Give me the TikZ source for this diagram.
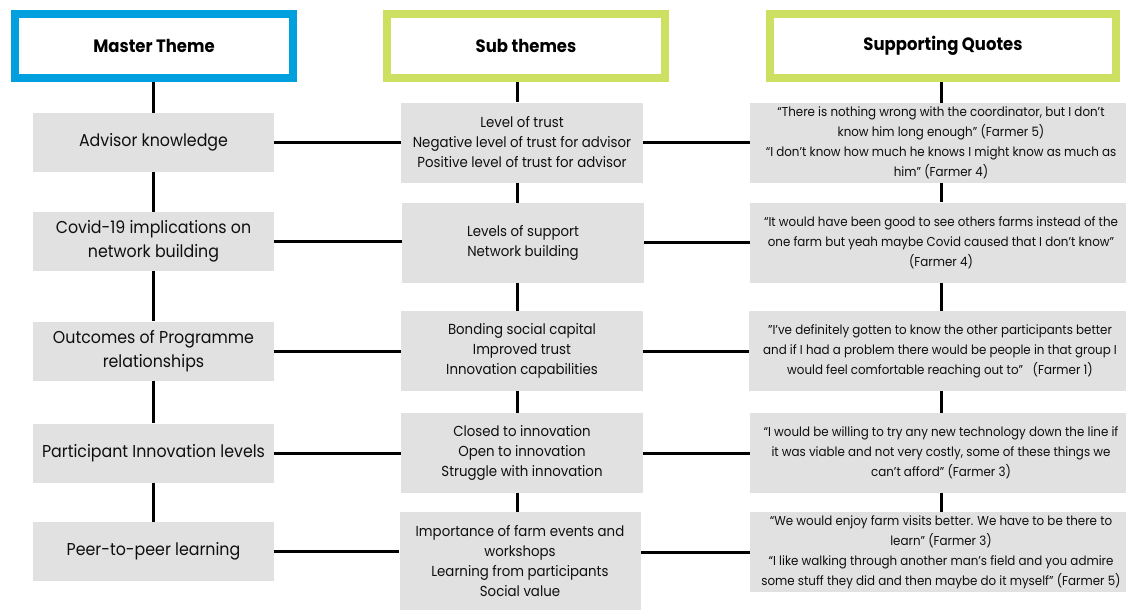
\documentclass[tikz,border=0pt]{standalone}
\usepackage{fontspec}
\setmainfont{Poppins}[FakeStretch=0.92]
\definecolor{hblue}{RGB}{0,160,223}
\definecolor{hgreen}{RGB}{205,224,98}
\definecolor{boxgray}{RGB}{225,225,225}
\definecolor{ink}{RGB}{15,15,15}
\begin{document}
\begin{tikzpicture}[x=1pt,y=-1pt,
  hdr/.style={draw, line width=8pt, fill=white, minimum height=64pt, inner sep=0pt,
    text=black, font=\fontsize{17.9}{20}\selectfont\bfseries},
  gbox/.style={fill=boxgray, inner sep=0pt, align=center, text=ink},
  lft/.style={gbox, minimum width=241pt, minimum height=59pt, font=\fontsize{17.2}{24}\selectfont},
  mid/.style={gbox, minimum width=242pt, minimum height=80pt, font=\fontsize{14.5}{20}\selectfont},
  qt/.style={gbox, minimum width=382pt, minimum height=80pt, font=\fontsize{12.9}{20}\selectfont},
  link/.style={line width=3pt, black}]
\useasboundingbox (0,0) rectangle (1126,610);
\fill[white] (0,0) rectangle (1126,610);

% headers
\node[hdr, draw=hblue, minimum width=278pt] (h1) at (154,46) {Master Theme};
\node[hdr, draw=hgreen, minimum width=278pt] (h2) at (526,46) {Sub themes};
\node[hdr, draw=hgreen, minimum width=346pt] (h3) at (943,46) {Supporting Quotes};

% left column
\node[lft] (L1) at (153.5,142.5) {Advisor knowledge};
\node[lft] (L2) at (153.5,241.5) {Covid-19 implications on\\network building};
\node[lft] (L3) at (153.5,351) {Outcomes of Programme\\relationships};
\node[lft] (L4) at (153.5,453) {Participant Innovation levels};
\node[lft] (L5) at (153.5,551.5) {Peer-to-peer learning};

% middle column
\node[mid] (M1) at (522,142.5) {Level of trust\\Negative level of trust for advisor\\Positive level of trust for advisor};
\node[mid] (M2) at (523,243) {Levels of support\\Network building};
\node[mid] (M3) at (522,351) {Bonding social capital\\Improved trust\\Innovation capabilities};
\node[mid] (M4) at (522,453) {Closed to innovation\\Open to innovation\\Struggle with innovation};
\node[mid, minimum height=98pt, minimum width=241pt] (M5) at (520,561) {Importance of farm events and\\workshops\\Learning from participants\\Social value};

% right column
\node[qt] (R1) at (941,143) {“There is nothing wrong with the coordinator, but I don’t\\know him long enough” (Farmer 5)\\“I don't know how much he knows I might know as much as\\him” (Farmer 4)};
\node[qt] (R2) at (941,242.5) {“It would have been good to see others farms instead of the\\one farm but yeah maybe Covid caused that I don't know”\\(Farmer 4)};
\node[qt] (R3) at (940,351) {"I've definitely gotten to know the other participants better\\and if I had a problem there would be people in that group I\\would feel comfortable reaching out to"~~~(Farmer 1)};
\node[qt] (R4) at (941,453) {“I would be willing to try any new technology down the line if\\it was viable and not very costly, some of these things we\\can’t afford” (Farmer 3)};
\node[qt] (R5) at (941,552) {“We would enjoy farm visits better. We have to be there to\\learn” (Farmer 3)\\“I like walking through another man’s field and you admire\\some stuff they did and then maybe do it myself” (Farmer 5)};

% column axes
\coordinate (lx) at (153,0);
\coordinate (mx) at (517,0);
\coordinate (qx) at (941,0);

% vertical connectors
\draw[link] (h1.south -| lx) -- (L1.north -| lx);
\draw[link] (L1.south -| lx) -- (L2.north -| lx);
\draw[link] (L2.south -| lx) -- (L3.north -| lx);
\draw[link] (L3.south -| lx) -- (L4.north -| lx);
\draw[link] (L4.south -| lx) -- (L5.north -| lx);

\draw[link] (h2.south -| mx) -- (M1.north -| mx);
\draw[link] (M1.south -| mx) -- (M2.north -| mx);
\draw[link] (M2.south -| mx) -- (M3.north -| mx);
\draw[link] (M3.south -| mx) -- (M4.north -| mx);
\draw[link] (M4.south -| mx) -- (M5.north -| mx);

\draw[link] (h3.south -| qx) -- (R1.north -| qx);
\draw[link] (R1.south -| qx) -- (R2.north -| qx);
\draw[link] (R2.south -| qx) -- (R3.north -| qx);
\draw[link] (R3.south -| qx) -- (R4.north -| qx);
\draw[link] (R4.south -| qx) -- (R5.north -| qx);

% horizontal connectors
\draw[link] (L1.east) -- (L1.east -| M1.west);
\draw[link] (L2.east) -- (L2.east -| M2.west);
\draw[link] (L3.east) -- (L3.east -| M3.west);
\draw[link] (L4.east) -- (L4.east -| M4.west);
\draw[link] (L5.east) -- (L5.east -| M5.west);

\draw[link] (M1.east) -- (M1.east -| R1.west);
\draw[link] (R2.west) -- (R2.west -| M2.east);
\draw[link] (M3.east) -- (M3.east -| R3.west);
\draw[link] (M4.east) -- (M4.east -| R4.west);
\draw[link] (R5.west) -- (R5.west -| M5.east);
\end{tikzpicture}
\end{document}
